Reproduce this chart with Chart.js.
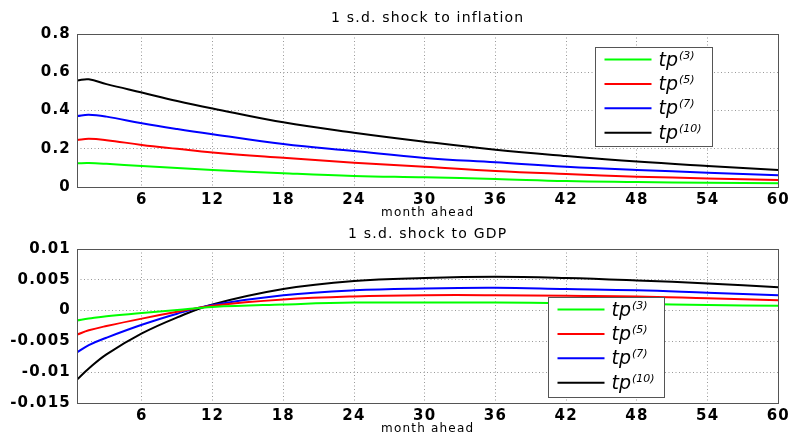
<!DOCTYPE html>
<html>
<head>
<meta charset="utf-8">
<script src="https://cdn.jsdelivr.net/npm/chart.js@4.4.1/dist/chart.umd.min.js"></script>
<style>
  body { margin: 0; background: #fff; }
  .panel { position: absolute; left: 0; width: 794px; }
</style>
</head>
<body>
<div class="panel" style="top:0;height:220px"><canvas id="inflChart"></canvas></div>
<div class="panel" style="top:220px;height:216px"><canvas id="gdpChart"></canvas></div>
<script>
const months = [0.5, 1.5, 3, 6, 9, 12, 18, 24, 30, 36, 42, 48, 54, 60];
const monthTicks = [6, 12, 18, 24, 30, 36, 42, 48, 54, 60];
const inflTicks = [0, 0.2, 0.4, 0.6, 0.8];
const gdpTicks = [-0.015, -0.01, -0.005, 0, 0.005, 0.01];
const maturities = ["3", "5", "7", "10"];
const lineColors = ["#00ff00", "#ff0000", "#0000ff", "#000000"];

// 1 s.d. shock to inflation
const infl3 = [0.124, 0.125, 0.121, 0.11, 0.099, 0.089, 0.072, 0.058, 0.051, 0.042, 0.031, 0.026, 0.022, 0.019];
const infl5 = [0.246, 0.252, 0.245, 0.22, 0.2, 0.181, 0.153, 0.127, 0.106, 0.084, 0.068, 0.054, 0.045, 0.037];
const infl7 = [0.371, 0.378, 0.368, 0.333, 0.303, 0.276, 0.225, 0.188, 0.152, 0.129, 0.106, 0.089, 0.075, 0.061];
const infl10 = [0.557, 0.563, 0.538, 0.494, 0.45, 0.411, 0.338, 0.284, 0.237, 0.195, 0.162, 0.133, 0.11, 0.089];

// 1 s.d. shock to GDP
const gdp3 = [-0.0016, -0.0013, -0.0009, -0.0004, 0.0001, 0.0006, 0.001, 0.0013, 0.0013, 0.0013, 0.0012, 0.0011, 0.0009, 0.0008];
const gdp5 = [-0.0039, -0.0032, -0.0025, -0.0013, -0.0002, 0.0008, 0.0018, 0.0023, 0.0025, 0.0025, 0.0024, 0.0023, 0.002, 0.0017];
const gdp7 = [-0.0068, -0.0056, -0.0044, -0.0023, -0.0005, 0.0009, 0.0025, 0.0033, 0.0036, 0.0037, 0.0035, 0.0033, 0.0029, 0.0025];
const gdp10 = [-0.0112, -0.0094, -0.0071, -0.0037, -0.0011, 0.001, 0.0035, 0.0048, 0.0053, 0.0055, 0.0053, 0.0049, 0.0044, 0.0038];

Chart.defaults.font.family = "'DejaVu Sans', sans-serif";
Chart.defaults.color = "#000";

// the original figure is a bit stretched sideways, widen the text a little
const spacingPlugin = {
  id: "spacing",
  beforeUpdate(chart) { chart.ctx.letterSpacing = "1.2px"; },
  beforeDraw(chart) { chart.ctx.letterSpacing = "1.2px"; },
};

// title over the axes, axes box and a matlab style legend with superscripts
const framePlugin = {
  id: "frame",
  afterDatasetsDraw(chart, args, opts) {
    const a = chart.chartArea;
    const ctx = chart.ctx;
    ctx.save();
    ctx.strokeStyle = "#555";
    ctx.lineWidth = 1;
    ctx.strokeRect(Math.round(a.left) + 0.5, Math.round(a.top) + 0.5,
      Math.round(a.right - a.left), Math.round(a.bottom - a.top));

    ctx.fillStyle = "#000";
    ctx.textAlign = "center";
    ctx.textBaseline = "middle";
    ctx.letterSpacing = "1.2px";
    ctx.font = "14px 'DejaVu Sans'";
    ctx.fillText(opts.title, (a.left + a.right) / 2, a.top - opts.titleGap);

    const lx = Math.round(a.left + opts.x) + 0.5;
    const ly = Math.round(a.top + opts.y) + 0.5;
    ctx.fillStyle = "#fff";
    ctx.fillRect(lx, ly, opts.w, opts.h);
    ctx.strokeStyle = "#555";
    ctx.strokeRect(lx, ly, opts.w, opts.h);

    ctx.textAlign = "left";
    ctx.textBaseline = "alphabetic";
    ctx.letterSpacing = "0px";
    chart.data.datasets.forEach((ds, i) => {
      const y = ly + 12 + i * 24.4;
      ctx.strokeStyle = ds.borderColor;
      ctx.lineWidth = 2;
      ctx.beginPath();
      ctx.moveTo(lx + 9, y);
      ctx.lineTo(lx + 56, y);
      ctx.stroke();
      ctx.fillStyle = "#000";
      ctx.font = "italic 19px 'DejaVu Sans'";
      ctx.fillText("tp", lx + 63, y + 6);
      const w = ctx.measureText("tp").width;
      ctx.font = "italic 11px 'DejaVu Sans'";
      ctx.fillText("(" + maturities[i] + ")", lx + 63 + w + 1, y - 1);
    });
    ctx.restore();
  }
};

function makeData(series) {
  return {
    datasets: series.map((vals, i) => ({
      label: "tp(" + maturities[i] + ")",
      data: months.map((m, j) => ({ x: m, y: vals[j] })),
      borderColor: lineColors[i],
      backgroundColor: lineColors[i],
    })),
  };
}

function makeOptions(yTicks, topPad, frameOpts) {
  return {
    responsive: true,
    maintainAspectRatio: false,
    animation: false,
    layout: { padding: { left: 0, right: 14, top: topPad, bottom: 0 } },
    elements: {
      point: { radius: 0 },
      line: { borderWidth: 2, tension: 0.4 },
    },
    plugins: {
      legend: { display: false },
      tooltip: { enabled: false },
      title: { display: false },
      frame: frameOpts,
    },
    scales: {
      x: {
        type: "linear",
        min: 0.5,
        max: 60,
        afterBuildTicks: (s) => { s.ticks = monthTicks.map((v) => ({ value: v })); },
        afterFit: (s) => { s.height = 33; },
        ticks: { autoSkip: false, maxRotation: 0, padding: 4, color: "#000", font: { size: 15, weight: "bold" } },
        grid: { color: "#999", drawTicks: false },
        border: { display: false, dash: [1, 2.5] },
        title: { display: true, text: "month ahead", color: "#000", font: { size: 12 }, padding: 0 },
      },
      y: {
        type: "linear",
        min: yTicks[0],
        max: yTicks[yTicks.length - 1],
        afterBuildTicks: (s) => { s.ticks = yTicks.map((v) => ({ value: v })); },
        afterFit: (s) => { s.width = 77; },
        ticks: { padding: 6, color: "#000", font: { size: 15, weight: "bold" }, callback: (v) => String(v) },
        grid: { color: "#999", drawTicks: false },
        border: { display: false, dash: [1, 2.5] },
      },
    },
  };
}

new Chart(document.getElementById("inflChart").getContext("2d"), {
  type: "line",
  data: makeData([infl3, infl5, infl7, infl10]),
  options: makeOptions(inflTicks, 34,
    { title: "1 s.d. shock to inflation", titleGap: 16, x: 518, y: 13, w: 117, h: 99 }),
  plugins: [spacingPlugin, framePlugin],
});

new Chart(document.getElementById("gdpChart").getContext("2d"), {
  type: "line",
  data: makeData([gdp3, gdp5, gdp7, gdp10]),
  options: makeOptions(gdpTicks, 29,
    { title: "1 s.d. shock to GDP", titleGap: 15, x: 471, y: 48, w: 116, h: 100 }),
  plugins: [spacingPlugin, framePlugin],
});
</script>
</body>
</html>
